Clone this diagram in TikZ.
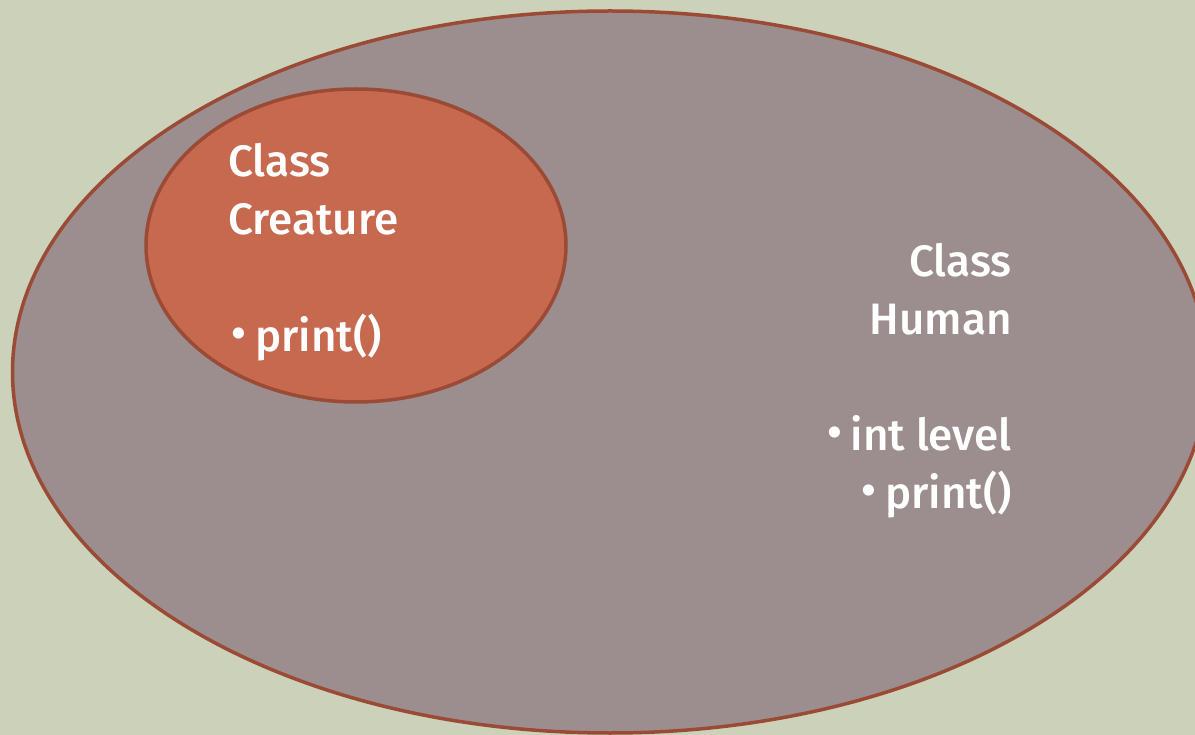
\documentclass[tikz,border=0pt]{standalone}
\usepackage{fontspec}
\newfontfamily\lblfont{Fira Sans Medium}
\usetikzlibrary{shapes.geometric}
\definecolor{bgsage}{HTML}{CCD2BA}
\definecolor{humanfill}{HTML}{9C8E8E}
\definecolor{creaturefill}{HTML}{C6694F}
\definecolor{rimbrown}{HTML}{9B4A36}
\begin{document}
\begin{tikzpicture}[x=1pt,y=-1pt,
  shell/.style={ellipse,draw=rimbrown,line width=3.5pt,inner sep=0pt},
  lbl/.style={text=white,font=\lblfont\fontsize{44}{50}\selectfont,inner sep=0pt},
  dot/.style={text=white,font=\lblfont\fontsize{44}{44}\selectfont,inner sep=0pt,anchor=base}]
\useasboundingbox (0,0) rectangle (1195,735);
\fill[bgsage] (0,0) rectangle (1195,735);
\clip (0,0) rectangle (1195,735);

% outer class and the base class nested inside it
\node[shell,fill=humanfill,minimum width=1195pt,minimum height=722pt] (human) at (610,372) {};
\node[shell,fill=creaturefill,minimum width=420pt,minimum height=313pt] (creature) at (356,245.5) {};

% base class labels
\node[lbl,anchor=base west] (c1) at (228,177) {Class};
\node[lbl,anchor=base west] (c2) at (228,235) {Creature};
\node[lbl,anchor=base west] (c3) at (255,352) {print()};
\node[dot] (c3b) at ([xshift=-16pt,yshift=3pt]c3.base west) {•};

% derived class labels
\node[lbl,anchor=base east] (h1) at (1012,277) {Class};
\node[lbl,anchor=base east] (h2) at (1012,335) {Human};
\node[lbl,anchor=base east] (h3) at (1012,450) {int level};
\node[dot] (h3b) at ([xshift=-16pt,yshift=3pt]h3.base west) {•};
\node[lbl,anchor=base east] (h4) at (1012,508) {print()};
\node[dot] (h4b) at ([xshift=-16pt,yshift=3pt]h4.base west) {•};
\end{tikzpicture}
\end{document}
